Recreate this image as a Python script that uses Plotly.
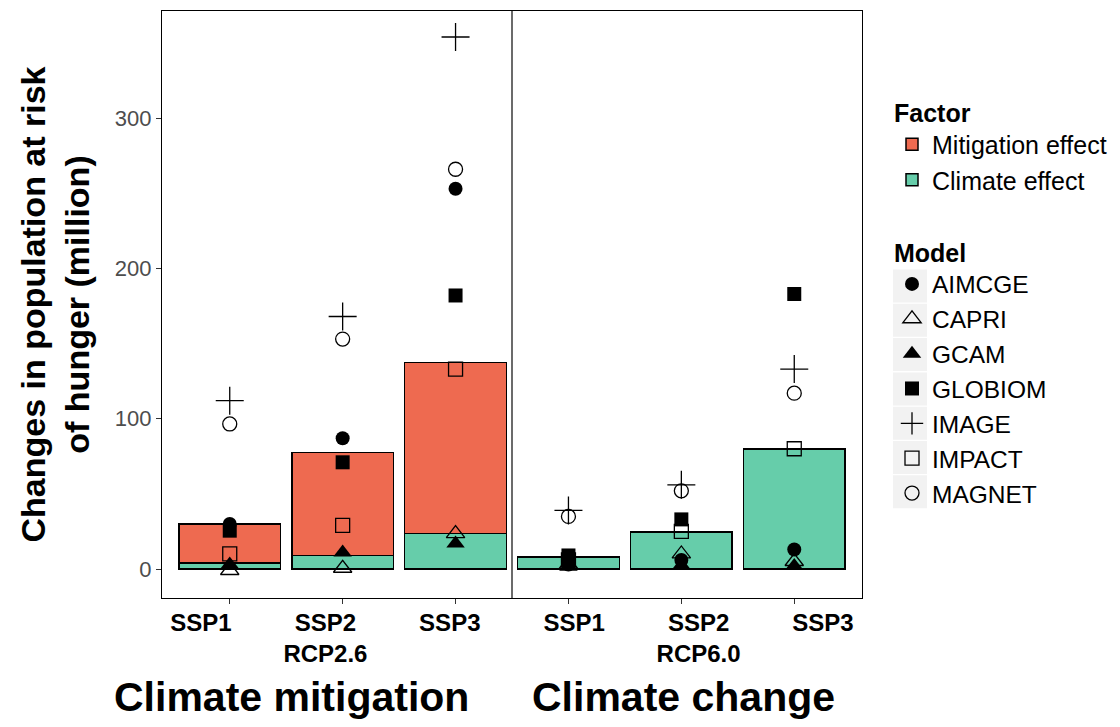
import plotly.graph_objects as go

# ---- data ----
scenarios = ["SSP1", "SSP2<br>RCP2.6", "SSP3", "SSP1", "SSP2<br>RCP6.0", "SSP3"]
climate_effect = [4, 9, 23.5, 8, 24.5, 80]
mitigation_effect = [26, 68.5, 114, None, None, None]

models = ["AIMCGE", "CAPRI", "GCAM", "GLOBIOM", "IMAGE", "IMPACT", "MAGNET"]
AIMCGE = [30, 87, 253, 3, 6, 13]
CAPRI = [-1, 0.5, 23.5, 3, 10, 5]
GCAM = [3, 11, 17, 1.5, 2.5, 2]
GLOBIOM = [25.5, 71, 182, 9, 33, 183]
IMAGE = [112, 168, 354, 39, 56, 133]
IMPACT = [10, 29, 133, 6, 25, 80]
MAGNET = [96.5, 153, 266, 35, 52, 117]
model_values = [AIMCGE, CAPRI, GCAM, GLOBIOM, IMAGE, IMPACT, MAGNET]

y_ticks = [0, 100, 200, 300]
group_labels = ["Climate mitigation", "Climate change"]

# ---- styles ----
FONT = "Liberation Sans, Arial, sans-serif"
col_mit = "#EE6A50"
col_cli = "#66CDAA"
sym = {
    "AIMCGE": ("circle", 14, 0),
    "CAPRI": ("triangle-up-open", 16, 1.3),
    "GCAM": ("triangle-up", 16, 0),
    "GLOBIOM": ("square", 14, 0),
    "IMAGE": ("cross-thin-open", 20, 1.3),
    "IMPACT": ("square-open", 14, 1.3),
    "MAGNET": ("circle-open", 14, 1.3),
}

# plot area geometry (pixels in the 1120x727 page; page body has an 8px margin)
PL, PR, PT, PB = 162, 862, 11, 598
PW, PH = PR - PL, PB - PT
BODY = 8
W, H = 1120 - BODY, 727 - BODY

def px(xp):
    return (xp - PL) / PW

def py(yp):
    return (PB - yp) / PH

xpos = list(range(1, len(scenarios) + 1))

fig = go.Figure()
fig.add_trace(go.Bar(x=xpos, y=climate_effect, name="Climate effect",
                     marker=dict(color=col_cli, line=dict(color="black", width=1.5)),
                     width=0.9, legend="legend"))
fig.add_trace(go.Bar(x=xpos, y=mitigation_effect, name="Mitigation effect",
                     marker=dict(color=col_mit, line=dict(color="black", width=1.5)),
                     width=0.9, legend="legend"))

for m, vals in zip(models, model_values):
    s, size, lw = sym[m]
    fig.add_trace(go.Scatter(x=xpos, y=vals, mode="markers", name=m,
                             marker=dict(symbol=s, size=size, color="black",
                                         line=dict(color="black", width=lw)),
                             legend="legend2"))

# invisible trace carrying the spread-out category labels on a second x axis
fig.add_trace(go.Scatter(x=xpos, y=[None] * len(xpos), xaxis="x2", showlegend=False,
                         hoverinfo="skip", mode="markers"))

# divider between the two groups
fig.add_vline(x=3.5, line=dict(color="#6b6b6b", width=2))

# grey key backgrounds for the Model legend
for i in range(len(models)):
    yc = 286 + 34.3 * i
    fig.add_shape(type="rect", xref="paper", yref="paper",
                  x0=px(893), x1=px(927), y0=py(yc + 16.5), y1=py(yc - 16.5),
                  fillcolor="#F2F2F2", line=dict(width=0), layer="below")

fig.update_layout(
    width=W, height=H,
    barmode="stack",
    plot_bgcolor="white", paper_bgcolor="white",
    margin=dict(l=PL - BODY, r=W - (PR - BODY), t=PT - BODY, b=H - (PB - BODY), autoexpand=False),
    font=dict(family=FONT, color="black"),
    showlegend=True,
    legend=dict(title=dict(text="<b>Factor</b>", font=dict(size=25)),
                font=dict(size=25), x=px(892), xanchor="left", y=py(89), yanchor="top",
                traceorder="reversed", bgcolor="rgba(0,0,0,0)"),
    legend2=dict(title=dict(text="<b>Model</b>", font=dict(size=25)),
                 font=dict(size=24.5), x=px(892), xanchor="left", y=py(229), yanchor="top",
                 bgcolor="rgba(0,0,0,0)"),
    xaxis2=dict(overlaying="x", anchor="y", side="bottom",
                range=[3.5 - PW / 2 / 124.4, 3.5 + PW / 2 / 124.4],
                tickvals=xpos, ticktext=[f"<b>{t}</b>" for t in scenarios],
                tickfont=dict(size=24, color="black"), ticks="", ticklabelstandoff=8,
                showline=False, showgrid=False, zeroline=False),
)

fig.layout.xaxis.update(range=[0.4, 6.6], tickvals=xpos, showticklabels=False,
                        ticks="outside", ticklen=5, tickcolor="#333333",
                        showline=True, linecolor="black", linewidth=1.2, mirror=True,
                        showgrid=False, zeroline=False)
fig.update_yaxes(range=[-19.3, 371.3], tickvals=y_ticks,
                 tickfont=dict(size=22, color="#4D4D4D"),
                 ticks="outside", ticklen=5, tickcolor="#333333",
                 showline=True, linecolor="black", linewidth=1.2, mirror=True,
                 showgrid=False, zeroline=False,
                 title=dict(text="<b>Changes in population at risk<br>of hunger (million)</b>",
                            font=dict(size=34), standoff=14))

for lbl, xc in zip(group_labels, [291, 683]):
    fig.add_annotation(text=f"<b>{lbl}</b>", xref="paper", yref="paper",
                       x=px(xc), y=py(697), xanchor="center", yanchor="middle",
                       showarrow=False, font=dict(size=41, color="black"))

fig.write_html("out.html")
